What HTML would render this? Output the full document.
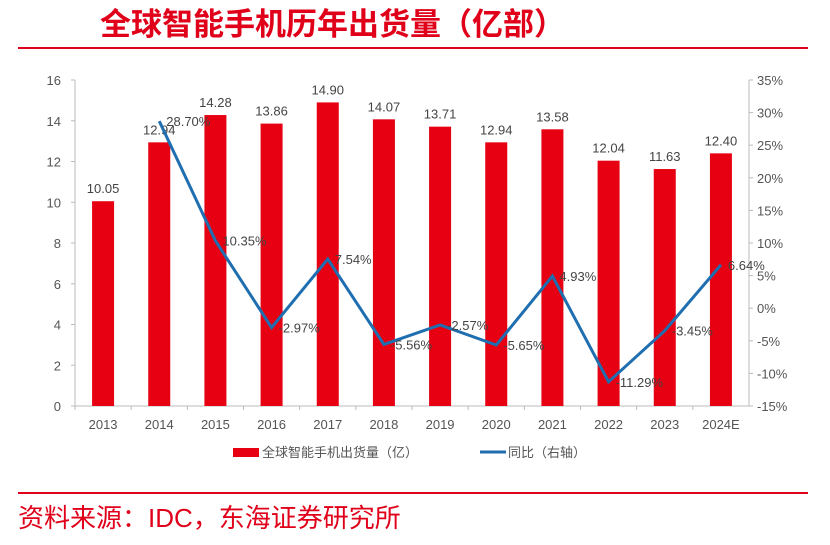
<!DOCTYPE html>
<html><head><meta charset="utf-8"><style>
body{margin:0;background:#fff;width:830px;height:540px;overflow:hidden;font-family:"Liberation Sans","Noto Sans CJK SC",sans-serif;}
</style></head><body>
<svg width="830" height="540" xmlns="http://www.w3.org/2000/svg" font-family="Liberation Sans, Noto Sans CJK SC, sans-serif">
<text x="100" y="35" font-size="31" fill="#e0001a" font-weight="bold">全球智能手机历年出货量（亿部）</text>
<line x1="18" y1="48" x2="808" y2="48" stroke="#e0001a" stroke-width="2"/>
<g id="plot"></g>
<g>
<rect x="233" y="448" width="26" height="9" fill="#e60012"/>
<text x="262" y="457" font-size="13" fill="#555">全球智能手机出货量（亿）</text>
<line x1="480" y1="452" x2="506" y2="452" stroke="#1f6fb0" stroke-width="3"/>
<text x="508" y="457" font-size="13" fill="#555">同比（右轴）</text>
</g>
<line x1="18" y1="493" x2="808" y2="493" stroke="#e0001a" stroke-width="2"/>
<text x="18" y="527" font-size="26" fill="#e0001a">资料来源：IDC，东海证券研究所</text>
</svg>
<script>
const categories=["2013","2014","2015","2016","2017","2018","2019","2020","2021","2022","2023","2024E"];
const shipments=[10.05,12.94,14.28,13.86,14.90,14.07,13.71,12.94,13.58,12.04,11.63,12.40];
const growth=[null,28.70,10.35,-2.97,7.54,-5.56,-2.57,-5.65,4.93,-11.29,-3.45,6.64];
const leftTicks=[0,2,4,6,8,10,12,14,16];
const rightTicks=[-15,-10,-5,0,5,10,15,20,25,30,35];
const NS="http://www.w3.org/2000/svg";
const g=document.getElementById('plot');
const X0=75,X1=749,Y0=406,Y1=80;
const step=(X1-X0)/categories.length;
const xc=i=>X0+step*(i+0.5);
const yL=v=>Y0-(v-0)/(16-0)*(Y0-Y1);
const yR=v=>Y0-(v+15)/50*(Y0-Y1);
function el(t,a,txt){const e=document.createElementNS(NS,t);for(const k in a)e.setAttribute(k,a[k]);if(txt!==undefined)e.textContent=txt;g.appendChild(e);return e;}
let ax=el('line',{x1:X0,y1:Y1,x2:X0,y2:Y0,stroke:'#bbb'});

let ax2=el('line',{x1:X1,y1:Y1,x2:X1,y2:Y0,stroke:'#bbb'});

let xa=el('line',{x1:X0,y1:Y0,x2:X1,y2:Y0,stroke:'#bbb'});

leftTicks.forEach(v=>{const t=el('text',{x:X0-14,y:yL(v)+5,'font-size':13,fill:'#555','text-anchor':'end'},String(v));

el('line',{x1:X0-4,y1:yL(v),x2:X0,y2:yL(v),stroke:'#bbb'});});
rightTicks.forEach(v=>{const t=el('text',{x:X1+8,y:yR(v)+5,'font-size':13,fill:'#555'},v+'%');

el('line',{x1:X1,y1:yR(v),x2:X1+4,y2:yR(v),stroke:'#bbb'});});
categories.forEach((c,i)=>{
 el('line',{x1:X0+step*i,y1:Y0,x2:X0+step*i,y2:Y0+4,stroke:'#bbb'});
 const b=el('rect',{x:xc(i)-11,y:yL(shipments[i]),width:22,height:Y0-yL(shipments[i]),fill:'#e60012'});
 
 const v=el('text',{x:xc(i),y:yL(shipments[i])-8,'font-size':13,fill:'#444','text-anchor':'middle'},shipments[i].toFixed(2));
 
 const t=el('text',{x:xc(i),y:Y0+23,'font-size':13,fill:'#555','text-anchor':'middle'},c);
 
});
let pts=[];growth.forEach((v,i)=>{if(v!==null)pts.push(xc(i)+','+yR(v));});
const ln=el('polyline',{points:pts.join(' '),fill:'none',stroke:'#1f6fb0','stroke-width':3,'stroke-linejoin':'miter'});

growth.forEach((v,i)=>{if(v===null)return;
 const t=el('text',{x:xc(i)+7,y:yR(v)+5,'font-size':13,fill:'#444'},v.toFixed(2)+'%');
 });
</script>
</body></html>
